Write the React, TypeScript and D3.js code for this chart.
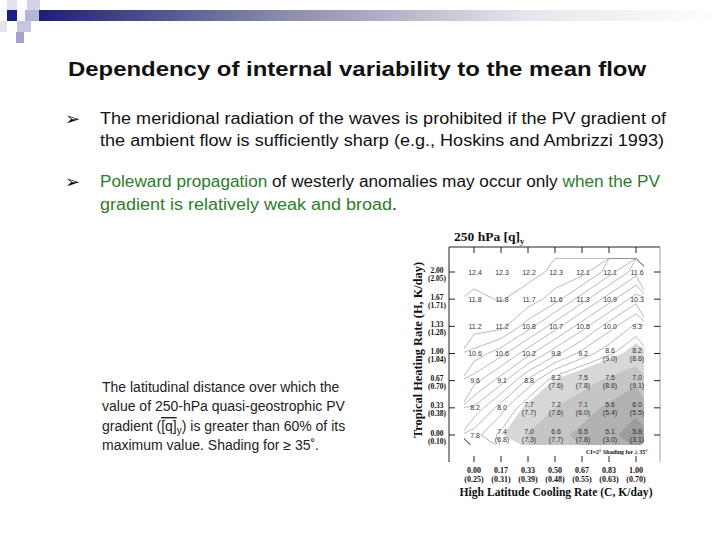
import React from "react";
import * as d3 from "d3";

// ---------- data ----------
const heatingRates = ["2.00", "1.67", "1.33", "1.00", "0.67", "0.33", "0.00"]; // top -> bottom
const heatingParens = ["(2.05)", "(1.71)", "(1.28)", "(1.04)", "(0.70)", "(0.38)", "(0.10)"];
const coolingRates = ["0.00", "0.17", "0.33", "0.50", "0.67", "0.83", "1.00"];
const coolingParens = ["(0.25)", "(0.31)", "(0.39)", "(0.48)", "(0.55)", "(0.63)", "(0.70)"];

// printed values in each cell (rows top -> bottom, columns left -> right)
const cellValues = [
  ["12.4", "12.3", "12.2", "12.3", "12.1", "12.1", "11.6"],
  ["11.8", "11.8", "11.7", "11.6", "11.3", "10.9", "10.3"],
  ["11.2", "11.2", "10.8", "10.7", "10.5", "10.0", "9.3"],
  ["10.6", "10.6", "10.2", "9.8", "9.2", "8.6", "8.2"],
  ["9.6", "9.1", "8.8", "8.2", "7.5", "7.5", "7.0"],
  ["8.2", "8.0", "7.7", "7.2", "7.1", "5.6", "6.0"],
  ["7.8", "7.4", "7.0", "6.6", "6.5", "5.1", "5.8"],
];
const cellSecond = [
  [null, null, null, null, null, null, null],
  [null, null, null, null, null, null, null],
  [null, null, null, null, null, null, null],
  [null, null, null, null, null, "(9.0)", "(8.6)"],
  [null, null, null, "(7.6)", "(7.8)", "(8.6)", "(9.1)"],
  [null, null, "(7.7)", "(7.6)", "(6.0)", "(5.4)", "(5.5)"],
  [null, "(6.8)", "(7.3)", "(7.7)", "(7.8)", "(3.0)", "(3.1)"],
];
// contoured latitudinal distance (deg)
const distanceField = [
  [11.5, 11.1, 11.5, 12.3, 13.1, 17.1, 21.1],
  [12.3, 11.9, 12.7, 15.1, 19.1, 23.1, 27.1],
  [12.9, 13.3, 17.1, 21.1, 25.1, 29.1, 32.5],
  [16.7, 19.3, 23.3, 27.3, 30.7, 33.5, 36.5],
  [21.1, 25.1, 30.5, 35.4, 38.0, 41.0, 44.0],
  [26.3, 31.1, 36.0, 40.0, 43.0, 46.0, 49.0],
  [31.1, 34.6, 40.3, 43.3, 46.3, 49.0, 52.0],
];
const shadeLevels = [35, 40, 45, 50];
const shadeColors = ["#d7d7d7", "#c5c5c5", "#b1b1b1", "#9d9d9d"];
const lineLevels = d3.range(12, 35, 2);

const SANS = "'Liberation Sans', Arial, sans-serif";
const SERIF = "'Liberation Serif', 'Times New Roman', serif";
const GREEN = "#2b7d2b";

export default function App() {
  const nx = coolingRates.length;
  const ny = heatingRates.length;
  const xIdx = d3.scaleLinear().domain([0, nx - 1]).range([474, 636]);
  const yIdx = d3.scaleLinear().domain([0, ny - 1]).range([272, 435]);

  const flat = distanceField.flat();
  const proj = d3.geoTransform({
    point(x: number, y: number) {
      (this as any).stream.point(xIdx(x - 0.5), yIdx(y - 0.5));
    },
  });
  const path = d3.geoPath(proj);
  const fills = d3.contours().size([nx, ny]).thresholds(shadeLevels)(flat);
  const lines = d3.contours().size([nx, ny]).thresholds(lineLevels)(flat);

  const clipX0 = xIdx(0) - 10;
  const clipX1 = xIdx(nx - 1) + 8;
  const clipY0 = yIdx(0) - 14;
  const clipY1 = yIdx(ny - 1) + 10;

  const frameL = 449, frameR = 660, frameT = 247, frameB = 462;

  return (
    <svg width={720} height={540} style={{ position: "absolute", left: 0, top: 0, background: "#fff" }}>
      <defs>
        <linearGradient id="bar" x1="0" x2="1" y1="0" y2="0">
          <stop offset="0" stopColor="#1b1b74" />
          <stop offset="0.35" stopColor="#8787a8" />
          <stop offset="0.72" stopColor="#e6e6ec" />
          <stop offset="1" stopColor="#ffffff" />
        </linearGradient>
        <clipPath id="dom">
          <rect x={clipX0} y={clipY0} width={clipX1 - clipX0} height={clipY1 - clipY0} />
        </clipPath>
      </defs>

      {/* slide decoration */}
      <rect x={33} y={10} width={687} height={11} fill="url(#bar)" />
      <rect x={7} y={0} width={10} height={10} fill="#e2e2ee" />
      <rect x={27} y={0} width={13} height={10} fill="#d2d2ea" />
      <rect x={7} y={10} width={10} height={11} fill="#1e1e86" />
      <rect x={25} y={10} width={14} height={11} fill="#b4b4da" />
      <rect x={0} y={21} width={7} height={11} fill="#e4e4ee" />
      <rect x={17} y={21} width={14} height={11} fill="#c6c6e2" />
      <rect x={16} y={32} width={8} height={11} fill="#a4a4cc" />

      {/* title */}
      <text x={68} y={76} fontFamily={SANS} fontWeight="bold" fontSize={20} fill="#111" textLength={578} lengthAdjust="spacingAndGlyphs">
        Dependency of internal variability to the mean flow
      </text>

      {/* bullets */}
      <text x={65} y={125} fontFamily="'DejaVu Sans', sans-serif" fontSize={18} fill="#111">➢</text>
      <text x={100} y={124} fontFamily={SANS} fontSize={16} fill="#111" textLength={566} lengthAdjust="spacingAndGlyphs">
        The meridional radiation of the waves is prohibited if the PV gradient of
      </text>
      <text x={100} y={146} fontFamily={SANS} fontSize={16} fill="#111" textLength={564} lengthAdjust="spacingAndGlyphs">
        the ambient flow is sufficiently sharp (e.g., Hoskins and Ambrizzi 1993)
      </text>
      <text x={65} y={188} fontFamily="'DejaVu Sans', sans-serif" fontSize={18} fill="#111">➢</text>
      <text x={100} y={187} fontFamily={SANS} fontSize={16} fill="#111" textLength={560} lengthAdjust="spacingAndGlyphs">
        <tspan fill={GREEN}>Poleward propagation</tspan>
        <tspan> of westerly anomalies may occur only </tspan>
        <tspan fill={GREEN}>when the PV</tspan>
      </text>
      <text x={100} y={210} fontFamily={SANS} fontSize={16} fill="#111" textLength={297} lengthAdjust="spacingAndGlyphs">
        <tspan fill={GREEN}>gradient is relatively weak and broad</tspan>
        <tspan>.</tspan>
      </text>

      {/* caption */}
      <g fontFamily={SANS} fontSize={14} fill="#222">
        <text x={102} y={392}>The latitudinal distance over which the</text>
        <text x={102} y={411}>value of 250-hPa quasi-geostrophic PV</text>
        <text x={102} y={431}>
          gradient (<tspan style={{ textDecoration: "overline" }}>[q]</tspan>
          <tspan dy={3} fontSize={10}>y</tspan>
          <tspan dy={-3}>) is greater than 60% of its</tspan>
        </text>
        <text x={102} y={450}>maximum value. Shading for ≥ 35˚.</text>
      </g>

      {/* chart */}
      <g clipPath="url(#dom)">
        {fills.map((c, i) => (
          <path key={"f" + i} d={path(c as any) || ""} fill={shadeColors[i]} stroke="none" />
        ))}
        {lines.map((c, i) => (
          <path key={"l" + i} d={path(c as any) || ""} fill="none" stroke="#8a8a8a" strokeWidth={0.6} />
        ))}
      </g>

      {/* frame */}
      <g stroke="#222" strokeWidth={1} fill="none">
        <line x1={frameL} x2={frameL} y1={frameT} y2={frameB} />
        <line x1={frameL} x2={frameR} y1={frameT} y2={frameT} />
        <line x1={frameR} x2={frameR} y1={frameT} y2={frameB} strokeWidth={0.6} stroke="#666" />
        {coolingRates.map((_, i) => (
          <g key={"xt" + i}>
            <line x1={xIdx(i)} x2={xIdx(i)} y1={frameT} y2={frameT + 6} />
            <line x1={xIdx(i)} x2={xIdx(i)} y1={frameB - 6} y2={frameB} />
          </g>
        ))}
        {heatingRates.map((_, i) => (
          <g key={"yt" + i}>
            <line x1={frameL} x2={frameL + 6} y1={yIdx(i)} y2={yIdx(i)} />
            <line x1={frameR - 6} x2={frameR} y1={yIdx(i)} y2={yIdx(i)} />
          </g>
        ))}
      </g>

      {/* cell values */}
      <g fontFamily={SANS} fontSize={7} fill="#333" textAnchor="middle">
        {cellValues.map((row, r) =>
          row.map((v, c) => {
            const s = cellSecond[r][c];
            const x = xIdx(c) + 1;
            const y = yIdx(r);
            return s ? (
              <g key={`c${r}-${c}`}>
                <text x={x} y={y - 1}>{v}</text>
                <text x={x} y={y + 7}>{s}</text>
              </g>
            ) : (
              <text key={`c${r}-${c}`} x={x} y={y + 2.5}>{v}</text>
            );
          })
        )}
      </g>

      {/* axis labels */}
      <g fontFamily={SERIF} fontWeight="bold" fill="#111" textAnchor="middle">
        {coolingRates.map((t, i) => (
          <g key={"xl" + i} fontSize={8}>
            <text x={xIdx(i)} y={472.5}>{t}</text>
            <text x={xIdx(i)} y={481.5}>{coolingParens[i]}</text>
          </g>
        ))}
        {heatingRates.map((t, i) => (
          <g key={"yl" + i} fontSize={7.5}>
            <text x={437} y={yIdx(i) + 0.5}>{t}</text>
            <text x={437} y={yIdx(i) + 8.5}>{heatingParens[i]}</text>
          </g>
        ))}
      </g>

      <text x={454} y={241} fontFamily={SERIF} fontWeight="bold" fontSize={13.5} fill="#111">
        250 hPa [q]<tspan dy={3} fontSize={8.5}>y</tspan>
      </text>
      <text x={556} y={495.5} fontFamily={SERIF} fontWeight="bold" fontSize={12} fill="#111" textAnchor="middle" textLength={193} lengthAdjust="spacingAndGlyphs">
        High Latitude Cooling Rate (C, K/day)
      </text>
      <text transform="translate(422,350) rotate(-90)" fontFamily={SERIF} fontWeight="bold" fontSize={12} fill="#111" textAnchor="middle" textLength={176} lengthAdjust="spacingAndGlyphs">
        Tropical Heating Rate (H, K/day)
      </text>
      <text x={586} y={454} fontFamily={SERIF} fontWeight="bold" fontSize={6} fill="#111">
        CI=2°    Shading for ≥ 35°
      </text>
    </svg>
  );
}
